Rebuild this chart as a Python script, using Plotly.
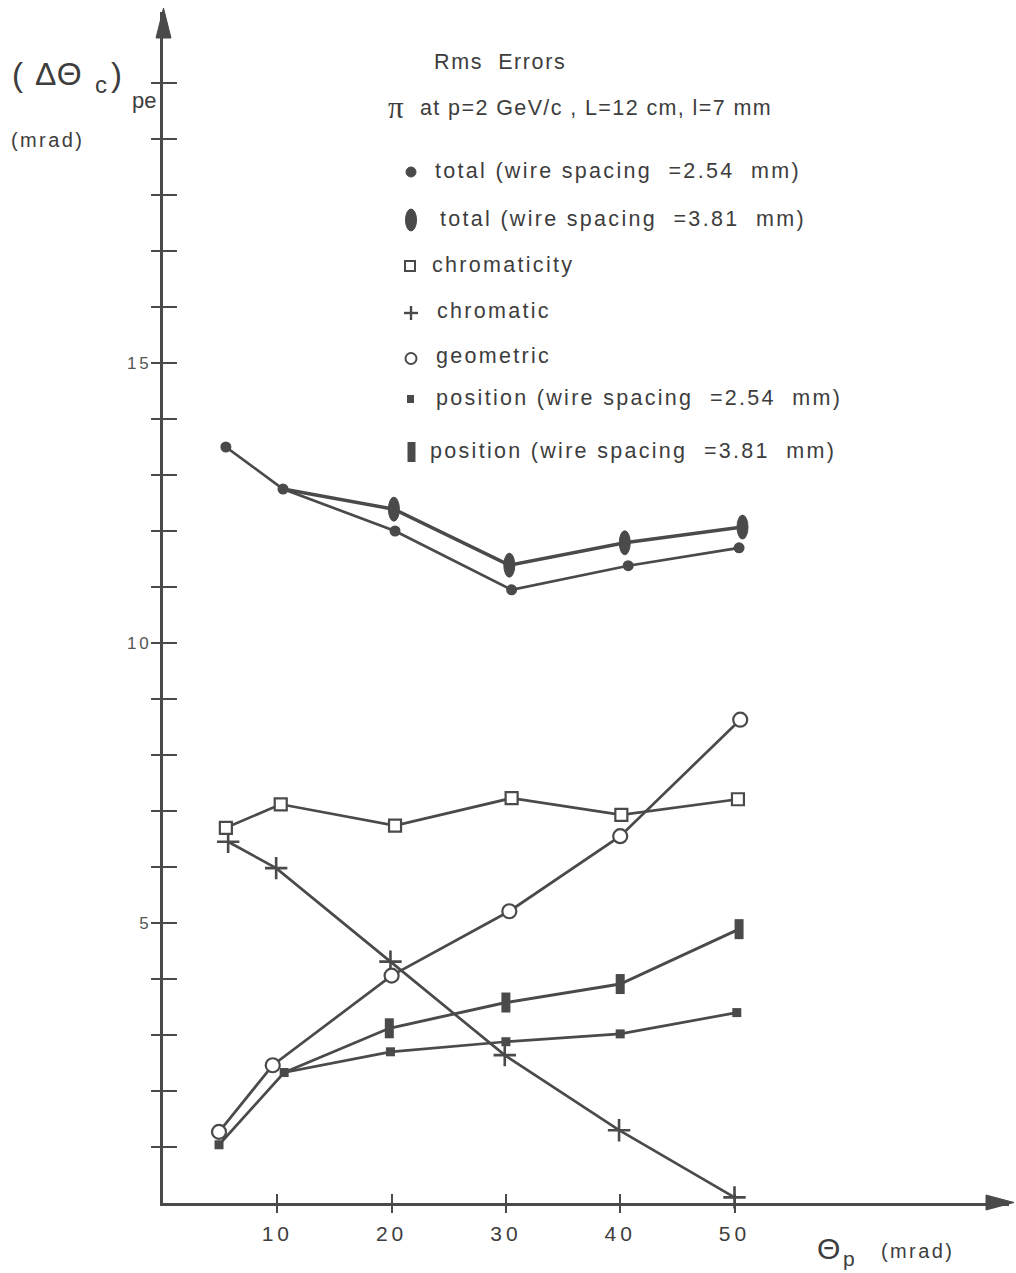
import json
import plotly.graph_objects as go

# ---------------- data: rms errors (mrad) versus track angle theta_p (mrad) ----------------
theta_total_254 = [5.5, 10.5, 20.3, 30.5, 40.7, 50.4]
total_254 = [13.5, 12.75, 12.0, 10.95, 11.38, 11.7]

# the 3.81 mm curve branches off the 2.54 mm curve at its second point
theta_total_381 = [10.5, 20.2, 30.3, 40.4, 50.7]
total_381 = [12.75, 12.39, 11.39, 11.79, 12.07]

theta_chromaticity = [5.5, 10.3, 20.3, 30.5, 40.1, 50.3]
chromaticity = [6.70, 7.12, 6.74, 7.23, 6.93, 7.21]

theta_chromatic = [5.7, 9.9, 19.9, 29.9, 39.9, 50.0]
chromatic = [6.45, 5.98, 4.31, 2.64, 1.30, 0.10]

theta_geometric = [4.9, 9.6, 20.0, 30.3, 40.0, 50.5]
geometric = [1.27, 2.46, 4.06, 5.21, 6.55, 8.63]

theta_position_254 = [4.9, 10.6, 19.9, 30.0, 40.0, 50.2]
position_254 = [1.04, 2.33, 2.70, 2.88, 3.02, 3.40]

theta_position_381 = [10.6, 19.8, 30.0, 40.0, 50.4]
position_381 = [2.33, 3.12, 3.58, 3.91, 4.89]

x_tick_values = [10, 20, 30, 40, 50]
x_tick_labels = ["10", "20", "30", "40", "50"]
y_tick_values = list(range(1, 21))
y_tick_labels = {5: "5", 10: "10", 15: "15"}

legend_labels = [
    "total (wire spacing  =2.54  mm)",
    "total (wire spacing  =3.81  mm)",
    "chromaticity",
    "chromatic",
    "geometric",
    "position (wire spacing  =2.54  mm)",
    "position (wire spacing  =3.81  mm)",
]

# ---------------- page geometry ----------------
W, H = 1016, 1273
L, R, T, B = 163, 7, 12, 70
PW, PH = W - L - R, H - T - B
X_MAX = PW / 11.43
Y_MAX = PH / 56.0

INK = "#4a4a4a"
TXT = "#3d3d3d"
FONT = "Liberation Sans"


def px(xp):
    return (xp - L) / PW


def py(yp):
    return (T + PH - yp) / PH


fig = go.Figure()

line_w = 2.7


def add_line(xs, ys, width=line_w, marker=None, mode="lines+markers"):
    fig.add_trace(go.Scatter(
        x=xs, y=ys, mode=mode, line=dict(color=INK, width=width),
        marker=marker, cliponaxis=False, showlegend=False, hoverinfo="skip"))


# curves
add_line(theta_total_254, total_254,
         marker=dict(symbol="circle", size=11, color=INK))
add_line(theta_total_381, total_381, width=3.5, mode="lines")
add_line(theta_position_254, position_254,
         marker=dict(symbol="square", size=9, color=INK))
add_line(theta_position_381, position_381, width=2.9, mode="lines")
add_line(theta_chromatic, chromatic,
         marker=dict(symbol="cross-thin", size=16, line=dict(color=INK, width=2.6)))
add_line(theta_chromaticity, chromaticity,
         marker=dict(symbol="square", size=12, color="white", line=dict(color=INK, width=2.2)))
add_line(theta_geometric, geometric,
         marker=dict(symbol="circle", size=14, color="white", line=dict(color=INK, width=2.2)))

# companion axes carrying the inner half of the crossing tick marks
fig.add_trace(go.Scatter(x=[None], y=[None], xaxis="x2", yaxis="y2",
                         showlegend=False, hoverinfo="skip"))

shapes = []
# elongated markers for the 3.81 mm wire spacing curves (skip the branching point)
for xv, yv in zip(theta_total_381[1:], total_381[1:]):
    shapes.append(dict(type="circle", xref="x", yref="y", xsizemode="pixel", ysizemode="pixel",
                       xanchor=xv, yanchor=yv, x0=-5.5, x1=5.5, y0=-12, y1=12,
                       fillcolor=INK, line=dict(color=INK, width=1), layer="above"))
for xv, yv in zip(theta_position_381[1:], position_381[1:]):
    shapes.append(dict(type="rect", xref="x", yref="y", xsizemode="pixel", ysizemode="pixel",
                       xanchor=xv, yanchor=yv, x0=-4.5, x1=4.5, y0=-10, y1=10,
                       fillcolor=INK, line=dict(color=INK, width=0), layer="above"))

# axis arrowheads
shapes.append(dict(type="path", xref="paper", yref="paper",
                   path=f"M {px(986)},{py(1195)} L {px(1014)},{py(1202.5)} L {px(986)},{py(1210)} Z",
                   fillcolor=INK, line=dict(color=INK, width=1)))
shapes.append(dict(type="path", xref="paper", yref="paper",
                   path=f"M {px(156)},{py(38)} L {px(163.5)},{py(8)} L {px(171)},{py(38)} Z",
                   fillcolor=INK, line=dict(color=INK, width=1)))

# legend glyphs
gx = 411
rows = [172, 220, 266, 312, 357, 399, 452]
shapes.append(dict(type="circle", xref="paper", yref="paper",
                   x0=px(gx - 5), x1=px(gx + 5), y0=py(rows[0] + 5), y1=py(rows[0] - 5),
                   fillcolor=INK, line=dict(color=INK, width=1)))
shapes.append(dict(type="circle", xref="paper", yref="paper",
                   x0=px(gx - 5.5), x1=px(gx + 5.5), y0=py(rows[1] + 11), y1=py(rows[1] - 11),
                   fillcolor=INK, line=dict(color=INK, width=1)))
shapes.append(dict(type="rect", xref="paper", yref="paper",
                   x0=px(gx - 6), x1=px(gx + 4), y0=py(rows[2] + 5), y1=py(rows[2] - 5),
                   fillcolor="white", line=dict(color=INK, width=2)))
shapes.append(dict(type="line", xref="paper", yref="paper",
                   x0=px(gx - 7), x1=px(gx + 7), y0=py(rows[3] + 1), y1=py(rows[3] + 1),
                   line=dict(color=INK, width=2.4)))
shapes.append(dict(type="line", xref="paper", yref="paper",
                   x0=px(gx), x1=px(gx), y0=py(rows[3] - 6), y1=py(rows[3] + 8),
                   line=dict(color=INK, width=2.4)))
shapes.append(dict(type="circle", xref="paper", yref="paper",
                   x0=px(gx - 5.5), x1=px(gx + 5.5), y0=py(rows[4] + 7), y1=py(rows[4] - 4),
                   fillcolor="white", line=dict(color=INK, width=2)))
shapes.append(dict(type="rect", xref="paper", yref="paper",
                   x0=px(gx - 4), x1=px(gx + 3), y0=py(rows[5] + 4), y1=py(rows[5] - 4),
                   fillcolor=INK, line=dict(color=INK, width=0)))
shapes.append(dict(type="rect", xref="paper", yref="paper",
                   x0=px(gx - 3.5), x1=px(gx + 4.5), y0=py(rows[6] + 10), y1=py(rows[6] - 10),
                   fillcolor=INK, line=dict(color=INK, width=0)))

annotations = []
letter_spacing = []


def label(text, xp, yp, size, family=FONT, color=TXT, spacing=2.0):
    annotations.append(dict(text=text, x=px(xp), y=py(yp), xref="paper", yref="paper",
                            xanchor="left", yanchor="middle", align="left", showarrow=False,
                            font=dict(family=family, size=size, color=color)))
    letter_spacing.append(spacing)


text_x = [433, 438, 430, 435, 434, 434, 428]
for lab, tx, ry in zip(legend_labels, text_x, rows):
    label(lab, tx, ry - 1, 21.5, spacing=2.3)

# heading
label("Rms  Errors", 432, 62, 21.5, spacing=1.6)
label("π", 386, 108, 31, family="Liberation Serif", spacing=0)
label("at p=2 GeV/c , L=12 cm, l=7 mm", 418, 108, 21.5, spacing=1.4)

# y-axis title
label("(", 10, 74, 33, spacing=0)
label("ΔΘ", 33, 74, 32, spacing=1.0)
label("c", 93, 84, 24, spacing=0)
label(")", 109, 74, 33, spacing=0)
label("pe", 130, 100, 22, spacing=0)
label("(mrad)", 9, 140, 20, spacing=2.4)

# x-axis title
label("Θ", 815, 1248, 30, spacing=0)
label("p", 841, 1258, 21, spacing=0)
label("(mrad)", 879, 1251, 20, spacing=2.4)

axis_common = dict(showgrid=False, zeroline=False)

fig.update_layout(
    width=W, height=H,
    margin=dict(l=L, r=R, t=T, b=B),
    paper_bgcolor="white", plot_bgcolor="white",
    xaxis=dict(range=[0, X_MAX], showline=True, linecolor=INK, linewidth=2.6,
               tickmode="array", tickvals=x_tick_values, ticktext=x_tick_labels,
               ticks="outside", ticklen=7, tickwidth=2.4, tickcolor=INK,
               ticklabelstandoff=3,
               tickfont=dict(family=FONT, size=21, color=TXT), **axis_common),
    yaxis=dict(range=[0, Y_MAX], showline=True, linecolor=INK, linewidth=2.6,
               tickmode="array", tickvals=y_tick_values,
               ticktext=[y_tick_labels.get(v, "") for v in y_tick_values],
               ticks="outside", ticklen=9, tickwidth=2.4, tickcolor=INK,
               ticklabelstandoff=-4,
               tickfont=dict(family=FONT, size=17, color="#555555"), **axis_common),
    xaxis2=dict(range=[0, X_MAX], overlaying="x", anchor="y2", side="bottom",
                tickmode="array", tickvals=x_tick_values, showticklabels=False,
                ticks="inside", ticklen=9, tickwidth=2.4, tickcolor=INK,
                showline=False, **axis_common),
    yaxis2=dict(range=[0, Y_MAX], overlaying="y", anchor="x2", side="left",
                tickmode="array", tickvals=y_tick_values, showticklabels=False,
                ticks="inside", ticklen=14, tickwidth=2.4, tickcolor=INK,
                showline=False, **axis_common),
    shapes=shapes,
    annotations=annotations,
    showlegend=False,
)

# typeset text with the wide letter spacing of the original lettering
spacing_js = """
var gd = document.getElementById('{plot_id}');
var sp = %s;
gd.querySelectorAll('.annotation').forEach(function (g) {
  var i = +g.getAttribute('data-index');
  var t = g.querySelector('.annotation-text');
  if (t && sp[i]) { t.style.letterSpacing = sp[i] + 'px'; }
});
gd.querySelectorAll('.xtick text').forEach(function (t) { t.style.letterSpacing = '4px'; });
gd.querySelectorAll('.ytick text').forEach(function (t) { t.style.letterSpacing = '3px'; });
""" % json.dumps(letter_spacing)

fig.write_html("out.html", post_script=spacing_js)
